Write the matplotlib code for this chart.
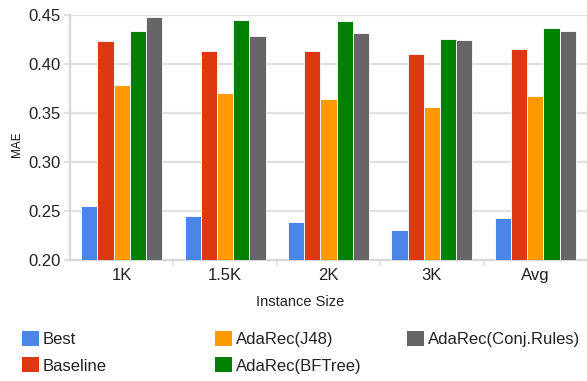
import numpy as np
import matplotlib.pyplot as plt
from matplotlib.patches import Patch

plt.rcParams['font.family'] = ['Liberation Sans', 'DejaVu Sans']

# MAE per instance size for each method
sizes = ["1K", "1.5K", "2K", "3K", "Avg"]
best = [0.255, 0.245, 0.239, 0.231, 0.2425]
baseline = [0.4235, 0.4135, 0.4135, 0.410, 0.415]
ada_j48 = [0.379, 0.370, 0.364, 0.356, 0.367]
ada_bftree = [0.434, 0.4445, 0.4435, 0.426, 0.437]
ada_conj = [0.448, 0.4285, 0.432, 0.424, 0.4335]

series = [
    ("Best", best, "#4a86e8"),
    ("Baseline", baseline, "#dc3912"),
    ("AdaRec(J48)", ada_j48, "#ff9900"),
    ("AdaRec(BFTree)", ada_bftree, "#008000"),
    ("AdaRec(Conj.Rules)", ada_conj, "#666666"),
]

W, H = 587, 381
fig = plt.figure(figsize=(W / 100, H / 100), dpi=100)
ax = fig.add_axes([70 / W, 1 - 260 / H, 517 / W, 245 / H])

x = np.arange(len(sizes))
w = 0.157
for i, (name, vals, col) in enumerate(series):
    ax.bar(x + (i - 2) * w, vals, width=w, color=col, edgecolor="white",
           linewidth=0.6, label=name, zorder=3)

ax.set_xlim(-0.5, len(sizes) - 0.5)
ax.set_ylim(0.20, 0.45)
yt = np.arange(0.20, 0.451, 0.05)
ax.set_yticks(yt)
ax.set_yticklabels([f"{v:.2f}" for v in yt])
ax.set_xticks(x)
ax.set_xticklabels(sizes)
ax.set_xticks(np.arange(0.5, len(sizes) - 0.5, 1), minor=True)

ax.grid(axis="y", color="#e0e0e0", linewidth=1.6, zorder=0)
for side in ["top", "right"]:
    ax.spines[side].set_visible(False)
for side in ["left", "bottom"]:
    ax.spines[side].set_color("#d8d8d8")
    ax.spines[side].set_linewidth(1.6)

ax.tick_params(axis="y", length=4, width=1.6, color="#e0e0e0",
               labelsize=12, labelcolor="#222222", pad=3)
ax.tick_params(axis="x", which="major", length=0, labelsize=12,
               labelcolor="#222222", pad=6)
ax.tick_params(axis="x", which="minor", length=4, width=1.2, color="#e0e0e0")

ax.set_ylabel("MAE", fontsize=8.5, color="#111111",
              family=["Liberation Sans Narrow", "Liberation Sans"])
ax.yaxis.set_label_coords((17 - 70) / 517, (260 - 144) / 245)
ax.yaxis.label.set_verticalalignment("center")
ax.set_xlabel("Instance Size", fontsize=10.5, color="#222222")
ax.xaxis.set_label_coords((300 - 70) / 517, (260 - 302) / 245)
ax.xaxis.label.set_verticalalignment("center")

# legend laid out in three columns at fixed positions
handles = [Patch(facecolor=c, edgecolor="none") for _, _, c in series]
labels = [n for n, _, _ in series]
columns = [(0, 2, 22), (2, 4, 215), (4, 5, 407)]
for a, b, xpos in columns:
    fig.legend(handles[a:b], labels[a:b], loc="upper left",
               bbox_to_anchor=(xpos / W, 1 - 331 / H), frameon=False,
               fontsize=12, handlelength=1.02, handleheight=1.02,
               handletextpad=0.24, labelspacing=0.6, borderaxespad=0,
               borderpad=0, labelcolor="#222222")

fig.savefig("out.png", dpi=100)
